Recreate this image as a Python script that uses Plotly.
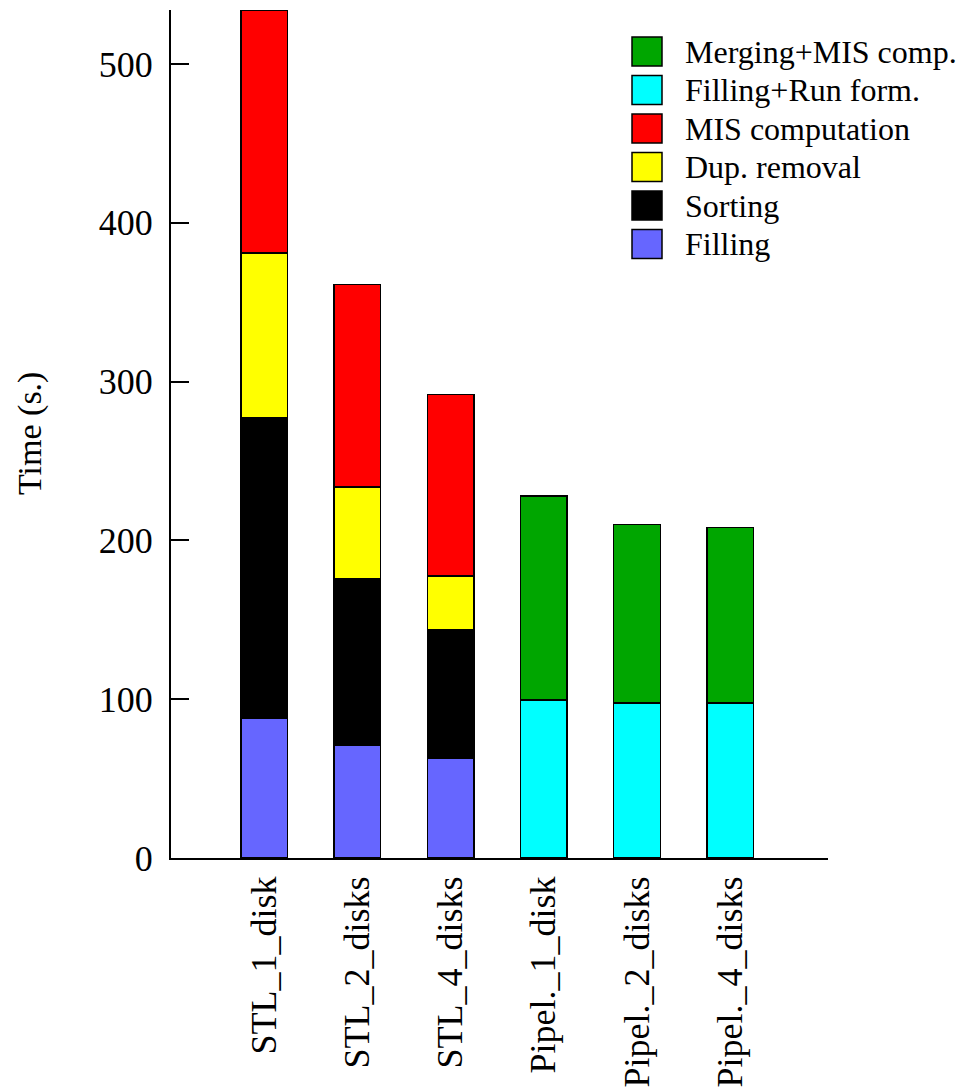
import plotly.graph_objects as go

# Categories (x axis) and per-phase times in seconds
categories = ["STL_1_disk", "STL_2_disks", "STL_4_disks",
              "Pipel._1_disk", "Pipel._2_disks", "Pipel._4_disks"]

filling = [88, 71, 63, None, None, None]
sorting = [189, 105, 81, None, None, None]
dup_removal = [104, 57.5, 33.5, None, None, None]
mis_computation = [153, 127.5, 114.5, None, None, None]
filling_run_form = [None, None, None, 99.5, 97.5, 97.5]
merging_mis = [None, None, None, 128.5, 112.5, 110.5]

y_ticks = [0, 100, 200, 300, 400, 500]

# Stack order bottom-up, with fill colors
series = [
    ("Filling", filling, "#6666FF"),
    ("Sorting", sorting, "#000000"),
    ("Dup. removal", dup_removal, "#FFFF00"),
    ("MIS computation", mis_computation, "#FF0000"),
    ("Filling+Run form.", filling_run_form, "#00FFFF"),
    ("Merging+MIS comp.", merging_mis, "#00A600"),
]

FONT = "Liberation Serif"
xs = list(range(len(categories)))

fig = go.Figure()
for name, values, color in series:
    fig.add_trace(go.Bar(
        x=xs, y=values, name=name, width=0.5,
        marker=dict(color=color, line=dict(color="black", width=1.5)),
        showlegend=False,
    ))

# Hand-drawn legend (top-down order is reverse of the stack)
plot_left, plot_right, plot_top, plot_bottom = 171, 828, 10, 858
def px_x(p):
    return (p - plot_left) / (plot_right - plot_left)
def px_y(p):
    return (plot_bottom - p) / (plot_bottom - plot_top)

row_y0 = 51.5
row_step = 38.5
shapes = []
annotations = []
for i, (name, _, color) in enumerate(reversed(series)):
    cy = row_y0 + i * row_step
    shapes.append(dict(
        type="rect", xref="paper", yref="paper",
        x0=px_x(632), x1=px_x(662), y0=px_y(cy + 14.5), y1=px_y(cy - 14.5),
        fillcolor=color, line=dict(color="black", width=1.5),
    ))
    annotations.append(dict(
        text=name, xref="paper", yref="paper", x=px_x(683), y=px_y(cy),
        xanchor="left", yanchor="middle", showarrow=False,
        font=dict(family=FONT, size=32, color="black"),
    ))

annotations.append(dict(
    text="Time (s.)", xref="paper", yref="paper", x=px_x(30), y=0.5,
    xanchor="center", yanchor="middle", textangle=-90, showarrow=False,
    font=dict(family=FONT, size=34, color="black"),
))

fig.update_layout(
    width=974, height=1092,
    margin=dict(l=171, r=146, t=10, b=234),
    plot_bgcolor="white", paper_bgcolor="white",
    barmode="stack", bargap=0.5,
    font=dict(family=FONT, size=36, color="black"),
    shapes=shapes, annotations=annotations,
    xaxis=dict(
        range=[-1.0, 6.05], tickmode="array", tickvals=xs, ticktext=categories,
        tickangle=-90, ticks="", showgrid=False, zeroline=False,
        showline=True, linecolor="black", linewidth=2,
        tickfont=dict(family=FONT, size=36, color="black"),
        ticklabelstandoff=2, automargin=False,
    ),
    yaxis=dict(
        range=[0, 534], tickmode="array", tickvals=y_ticks,
        ticks="inside", ticklen=18, tickwidth=2, tickcolor="black",
        showgrid=False, zeroline=False,
        showline=True, linecolor="black", linewidth=2,
        tickfont=dict(family=FONT, size=36, color="black"),
        ticklabelstandoff=9, automargin=False,
    ),
)

fig.write_html("out.html")
